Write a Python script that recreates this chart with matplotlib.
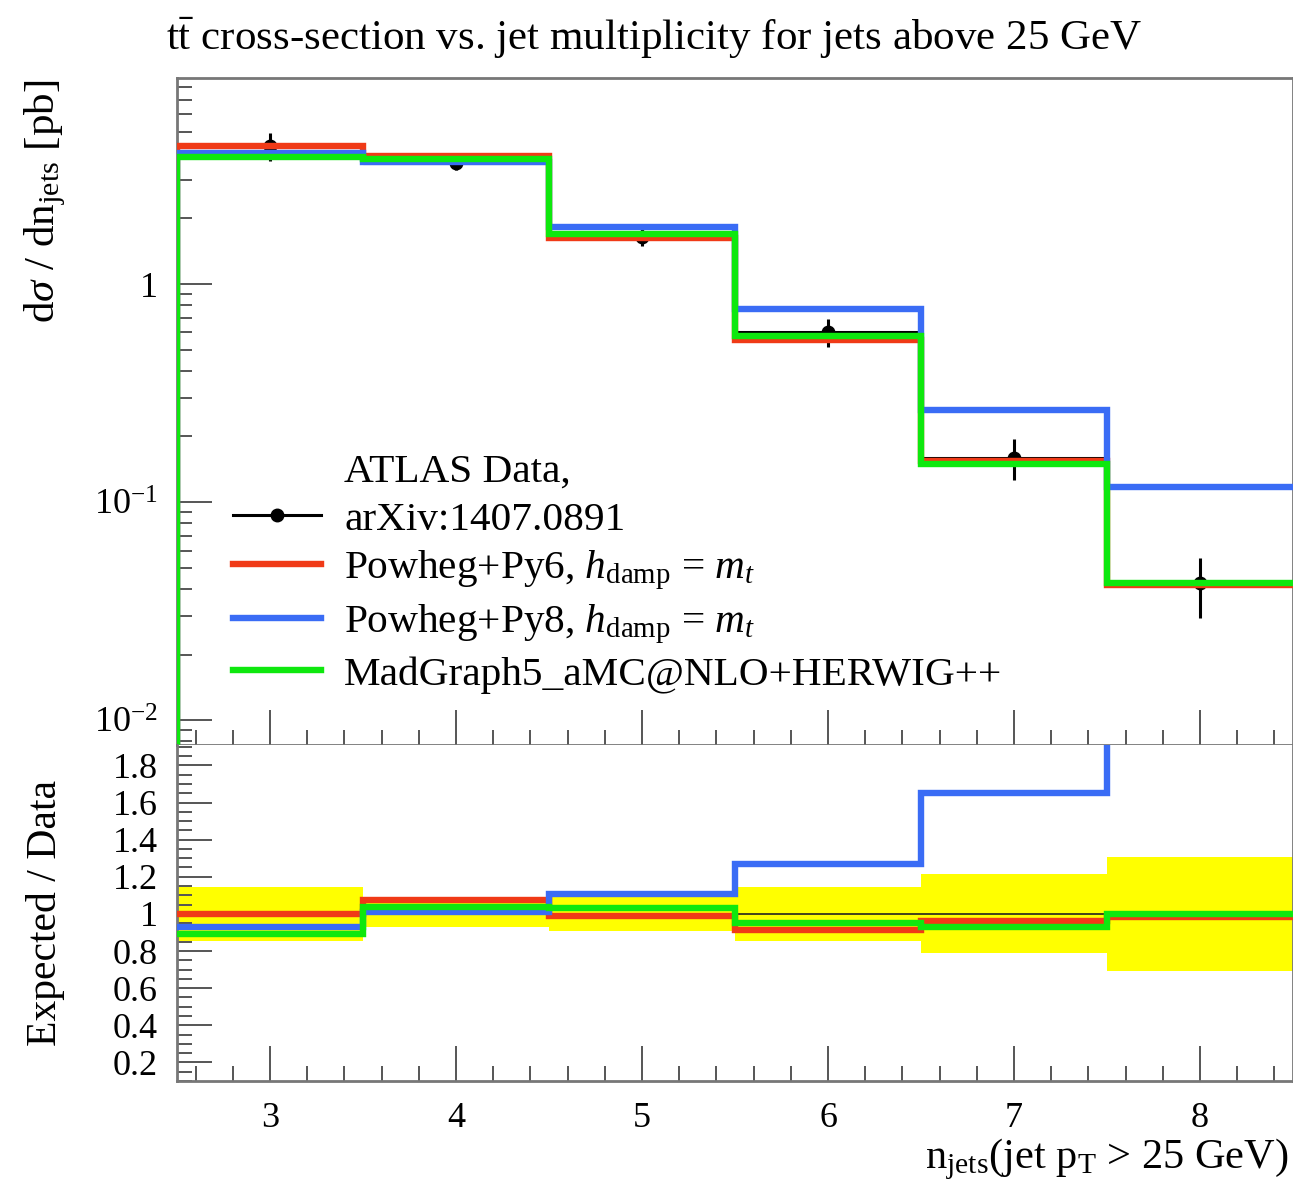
import matplotlib
matplotlib.use("Agg")
import matplotlib.pyplot as plt
import matplotlib.ticker as mticker
import numpy as np

plt.rcParams['font.family'] = ['Liberation Serif', 'DejaVu Serif']
plt.rcParams['mathtext.fontset'] = 'custom'
plt.rcParams['mathtext.rm'] = 'Liberation Serif'
plt.rcParams['mathtext.it'] = 'Liberation Serif:italic'
plt.rcParams['mathtext.bf'] = 'Liberation Serif:bold'

# jet multiplicity bins
edges = [2.5, 3.5, 4.5, 5.5, 6.5, 7.5, 8.5]
njets = [3, 4, 5, 6, 7, 8]

# ATLAS measurement, arXiv:1407.0891 (pb)
data = [4.30, 3.60, 1.65, 0.605, 0.160, 0.0425]
data_err = [0.62, 0.25, 0.15, 0.088, 0.034, 0.013]

# generator predictions (pb)
py6 = [4.30, 3.87, 1.63, 0.551, 0.154, 0.0417]
py8 = [4.00, 3.64, 1.83, 0.768, 0.264, 0.117]
mg5 = [3.83, 3.74, 1.70, 0.575, 0.149, 0.0425]

RED = '#f03a17'
BLUE = '#3a6cf5'
GREEN = '#0ee80e'
LW = 4.6

fig = plt.figure(figsize=(12.93, 11.84), dpi=100)
ax1 = fig.add_axes([0.1369, 0.3708, 0.8631, 0.5633])
ax2 = fig.add_axes([0.1369, 0.0870, 0.8631, 0.2838], sharex=ax1)

d = np.array(data)
de = np.array(data_err)

# main panel
ax1.errorbar(njets, d, yerr=de, xerr=0.5, fmt='o', color='black', ms=9,
             lw=2.2, capsize=0, zorder=2)
for vals, col, z in [(py6, RED, 3), (py8, BLUE, 4), (mg5, GREEN, 5)]:
    ax1.stairs(vals, edges, baseline=None, color=col, lw=LW, zorder=z)
    # histogram drops to the floor at the low edge
    ax1.vlines(edges[0], 1e-6, vals[0], color=col, lw=LW, zorder=z)

ax1.set_yscale('log')
ax1.set_ylim(0.0077, 8.8)
ax1.set_xlim(2.5, 8.5)

# ratio panel
ax2.stairs(1 + de / d, edges, baseline=1 - de / d, fill=True,
           color='#ffff00', lw=0, zorder=1)
ax2.stairs(d / d, edges, baseline=None, color='#222222', lw=1.2, zorder=2)
ax2.stairs(np.array(py6) / d, edges, baseline=None, color=RED, lw=LW, zorder=3)
ax2.stairs(np.array(py8) / d, edges, baseline=None, color=BLUE, lw=LW, zorder=4)
ax2.stairs(np.array(mg5) / d, edges, baseline=None, color=GREEN, lw=LW, zorder=5)
ax2.set_ylim(0.1, 1.91)

# axes cosmetics
for ax in (ax1, ax2):
    for s in ax.spines.values():
        s.set_color('#777777')
        s.set_linewidth(2)
    ax.spines['top'].set_visible(ax is ax1)
    ax.xaxis.set_major_locator(mticker.MultipleLocator(1))
    ax.xaxis.set_minor_locator(mticker.MultipleLocator(0.2))
    ax.tick_params(which='both', direction='in', top=False, right=False,
                   color='#555555', width=1.4, labelsize=26, pad=14)
    ax.tick_params(which='major', length=25)
    ax.tick_params(which='minor', length=11)
ax2.tick_params(axis='x', which='both', pad=15)

ax1.yaxis.set_major_locator(mticker.FixedLocator([0.01, 0.1, 1]))
ax1.yaxis.set_major_formatter(mticker.FixedFormatter(['$10^{-2}$', '$10^{-1}$', '1']))
ax1.yaxis.set_minor_locator(mticker.LogLocator(base=10, subs=np.arange(2, 10)))
ax1.yaxis.set_minor_formatter(mticker.NullFormatter())
plt.setp(ax1.get_xticklabels(), visible=False)

ax2.yaxis.set_major_locator(mticker.MultipleLocator(0.2))
ax2.yaxis.set_minor_locator(mticker.MultipleLocator(0.05))
ax2.yaxis.set_major_formatter(mticker.FuncFormatter(lambda v, p: f"{v:g}"))

# legend
blank = plt.Line2D([], [], color='none')
h_data = plt.Line2D([], [], color='black', lw=2.2, marker='o', ms=9)
h6 = plt.Line2D([], [], color=RED, lw=LW)
h8 = plt.Line2D([], [], color=BLUE, lw=LW)
hmg = plt.Line2D([], [], color=GREEN, lw=LW)
ax1.legend([blank, h_data, h6, h8, hmg],
           ['ATLAS Data,', 'arXiv:1407.0891',
            r'Powheg+Py6, $h_\mathrm{damp}$ = $m_t$',
            r'Powheg+Py8, $h_\mathrm{damp}$ = $m_t$',
            'MadGraph5_aMC@NLO+HERWIG++'],
           loc='upper left', bbox_to_anchor=(0.05, 0.438), frameon=False,
           fontsize=29.7, handlelength=2.15, handletextpad=0.55,
           labelspacing=0.245, borderpad=0, borderaxespad=0)

fig.text(0.128, 0.987, r'$\mathrm{t\bar{t}}$ cross-section vs. jet multiplicity for jets above 25 GeV',
         fontsize=31, ha='left', va='top')
fig.text(0.035, 1 - 80 / 1184, r'd$\sigma$ / d$\mathrm{n_{jets}}$ [pb]',
         fontsize=31, rotation=90, ha='center', va='top')
fig.text(0.035, 1 - 780 / 1184, 'Expected / Data',
         fontsize=30, rotation=90, ha='center', va='top')
fig.text(0.997, 0.002, r'$\mathrm{n_{jets}}$(jet $\mathrm{p_T}$ > 25 GeV)',
         fontsize=30.5, ha='right', va='bottom')

fig.savefig('out.png', dpi=100)
